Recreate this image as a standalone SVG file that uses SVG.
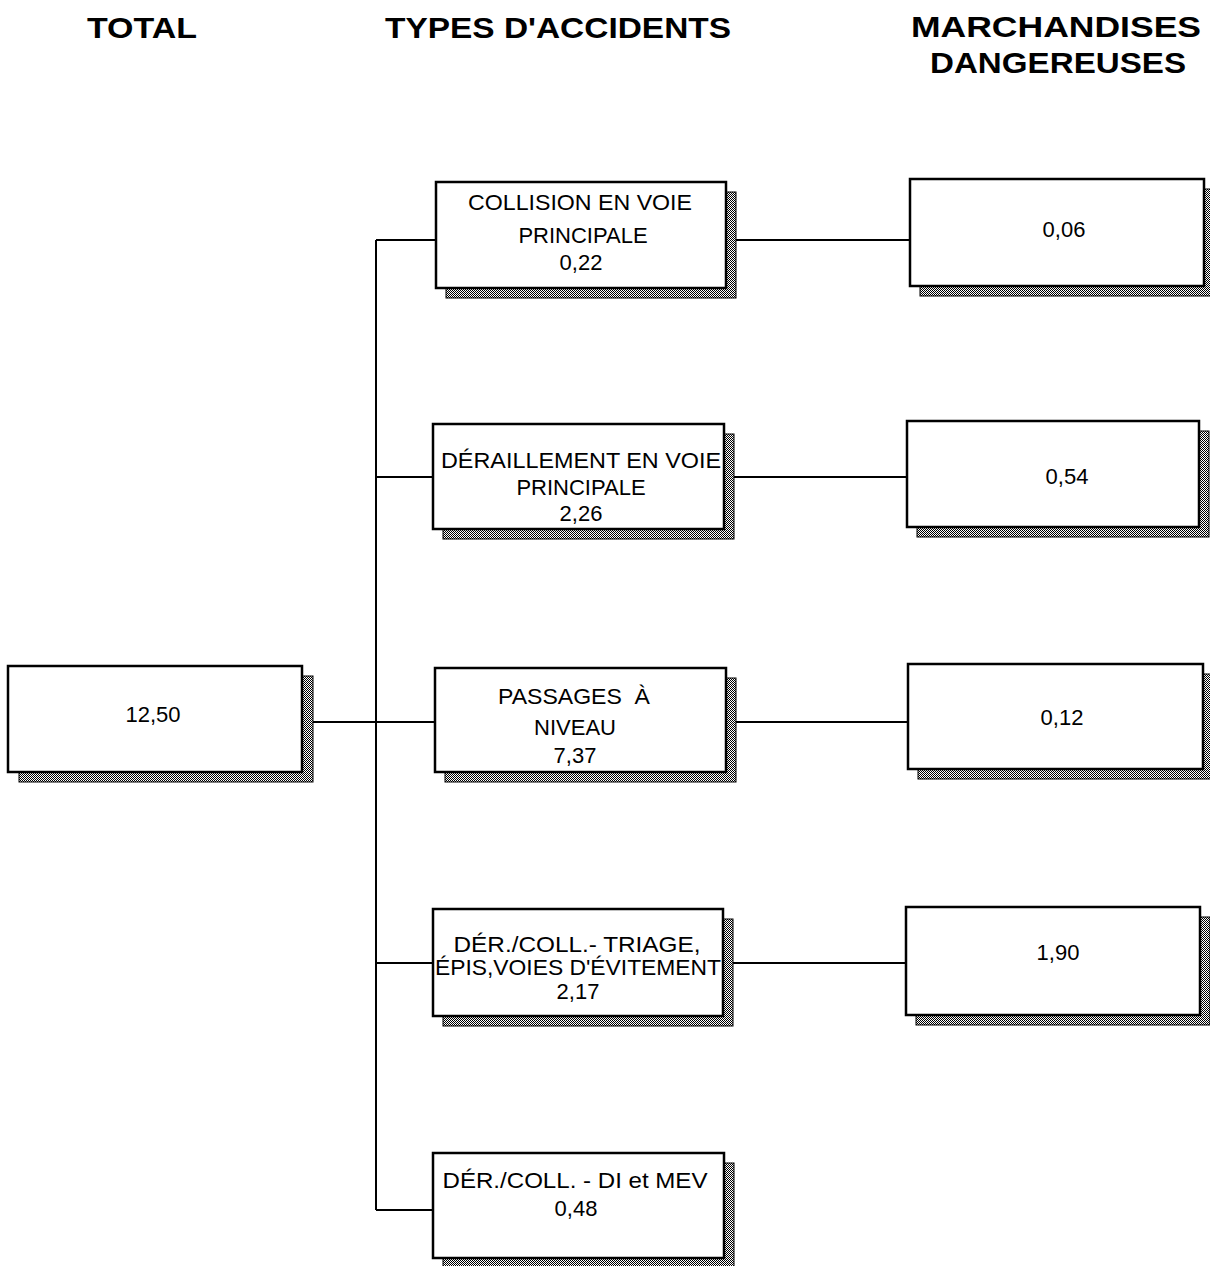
<svg xmlns="http://www.w3.org/2000/svg" width="1210" height="1266" viewBox="0 0 1210 1266">
<defs>
<pattern id="dither" width="2" height="2" patternUnits="userSpaceOnUse">
<rect width="2" height="2" fill="#ffffff"/>
<rect x="0" y="0" width="1" height="1" fill="#000"/>
<rect x="1" y="1" width="1" height="1" fill="#000"/>
</pattern>
</defs>
<style>
.hdr{font-family:"Liberation Sans",Arial,sans-serif;font-weight:bold;font-size:30px;fill:#000;text-anchor:middle}
.t{font-family:"Liberation Sans",Arial,sans-serif;font-size:22px;fill:#000;text-anchor:middle}
.box{fill:#fff;stroke:#000;stroke-width:2.5}
.sh{fill:url(#dither);stroke:#000;stroke-width:1}
.conn{stroke:#000;stroke-width:2;fill:none}
</style>
<rect width="1210" height="1266" fill="#fff"/>
<g id="headers">
<text class="hdr" x="142" y="38" textLength="110" lengthAdjust="spacingAndGlyphs">TOTAL</text>
<text class="hdr" x="558" y="38" textLength="346" lengthAdjust="spacingAndGlyphs">TYPES D'ACCIDENTS</text>
<text class="hdr" x="1056" y="37" textLength="290" lengthAdjust="spacingAndGlyphs">MARCHANDISES</text>
<text class="hdr" x="1058" y="73" textLength="256" lengthAdjust="spacingAndGlyphs">DANGEREUSES</text>
</g>
<g id="connectors">
<path class="conn" d="M376 240 V1210"/>
<path class="conn" d="M302 722 H435"/>
<path class="conn" d="M376 240 H436"/>
<path class="conn" d="M376 477 H433"/>
<path class="conn" d="M376 963 H433"/>
<path class="conn" d="M376 1210 H433"/>
<path class="conn" d="M726 240 H910"/>
<path class="conn" d="M724 477 H907"/>
<path class="conn" d="M726 722 H908"/>
<path class="conn" d="M723 963 H906"/>
</g>
<g id="total">
<rect class="sh" x="19" y="676" width="294" height="106"/>
<rect class="box" x="8" y="666" width="294" height="106"/>
<text class="t" x="153" y="722">12,50</text>
</g>
<g id="collision">
<rect class="sh" x="446" y="192" width="290" height="106"/>
<rect class="box" x="436" y="182" width="290" height="106"/>
<text class="t" x="580" y="210" textLength="224" lengthAdjust="spacingAndGlyphs">COLLISION EN VOIE</text>
<text class="t" x="583" y="243">PRINCIPALE</text>
<text class="t" x="581" y="270">0,22</text>
</g>
<g id="deraillement">
<rect class="sh" x="443" y="434" width="291" height="105"/>
<rect class="box" x="433" y="424" width="291" height="105"/>
<text class="t" x="581" y="468" textLength="280" lengthAdjust="spacingAndGlyphs">DÉRAILLEMENT EN VOIE</text>
<text class="t" x="581" y="495">PRINCIPALE</text>
<text class="t" x="581" y="521">2,26</text>
</g>
<g id="passages">
<rect class="sh" x="445" y="678" width="291" height="104"/>
<rect class="box" x="435" y="668" width="291" height="104"/>
<text class="t" x="574" y="704" textLength="152" lengthAdjust="spacingAndGlyphs" xml:space="preserve">PASSAGES  À</text>
<text class="t" x="575" y="735">NIVEAU</text>
<text class="t" x="575" y="763">7,37</text>
</g>
<g id="triage">
<rect class="sh" x="443" y="919" width="290" height="107"/>
<rect class="box" x="433" y="909" width="290" height="107"/>
<text class="t" x="577" y="952" textLength="247" lengthAdjust="spacingAndGlyphs">DÉR./COLL.- TRIAGE,</text>
<text class="t" x="578" y="975" textLength="286" lengthAdjust="spacingAndGlyphs">ÉPIS,VOIES D'ÉVITEMENT</text>
<text class="t" x="578" y="999">2,17</text>
</g>
<g id="di-mev">
<rect class="sh" x="443" y="1163" width="291" height="105"/>
<rect class="box" x="433" y="1153" width="291" height="105"/>
<text class="t" x="575" y="1188" textLength="265" lengthAdjust="spacingAndGlyphs">DÉR./COLL. - DI et MEV</text>
<text class="t" x="576" y="1216">0,48</text>
</g>
<g id="md1">
<rect class="sh" x="920" y="189" width="294" height="107"/>
<rect class="box" x="910" y="179" width="294" height="107"/>
<text class="t" x="1064" y="237">0,06</text>
</g>
<g id="md2">
<rect class="sh" x="917" y="431" width="292" height="106"/>
<rect class="box" x="907" y="421" width="292" height="106"/>
<text class="t" x="1067" y="484">0,54</text>
</g>
<g id="md3">
<rect class="sh" x="918" y="674" width="295" height="105"/>
<rect class="box" x="908" y="664" width="295" height="105"/>
<text class="t" x="1062" y="725">0,12</text>
</g>
<g id="md4">
<rect class="sh" x="916" y="917" width="294" height="108"/>
<rect class="box" x="906" y="907" width="294" height="108"/>
<text class="t" x="1058" y="960">1,90</text>
</g>
</svg>
